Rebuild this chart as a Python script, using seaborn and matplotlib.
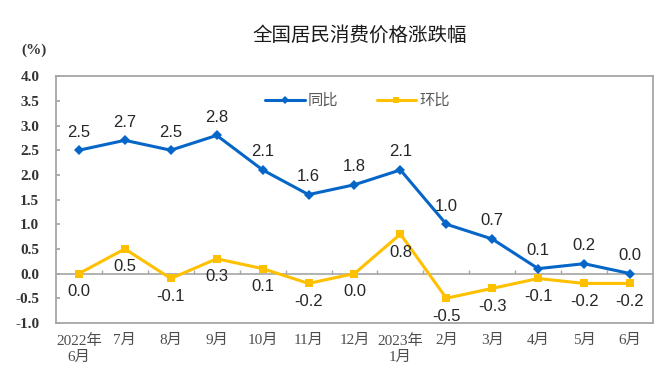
import matplotlib
matplotlib.use('Agg')
import matplotlib.pyplot as plt
import pandas as pd
import seaborn as sns

months = ['2022年\n6月', '7月', '8月', '9月', '10月', '11月', '12月',
          '2023年\n1月', '2月', '3月', '4月', '5月', '6月']
yoy = [2.5, 2.7, 2.5, 2.8, 2.1, 1.6, 1.8, 2.1, 1.0, 0.7, 0.1, 0.2, 0.0]
mom = [0.0, 0.5, -0.1, 0.3, 0.1, -0.2, 0.0, 0.8, -0.5, -0.3, -0.1, -0.2, -0.2]
yticks = [-1.0, -0.5, 0.0, 0.5, 1.0, 1.5, 2.0, 2.5, 3.0, 3.5, 4.0]

sns.set_theme(style='white')
plt.rcParams['font.family'] = ['Liberation Sans', 'Noto Sans CJK SC']

df = pd.DataFrame({
    'pos': list(range(len(months))) * 2,
    'value': yoy + mom,
    'series': ['同比'] * len(months) + ['环比'] * len(months),
})

blue = '#0566C8'
yellow = '#FFC000'
grey = '#A6A6A6'
serif = ['Liberation Serif', 'Noto Sans CJK SC']

fig = plt.figure(figsize=(6.72, 3.79), dpi=100)
ax = fig.add_axes([0.0833, 0.148, 0.8884, 0.651])

sns.lineplot(data=df, x='pos', y='value', hue='series', style='series',
             palette={'同比': blue, '环比': yellow},
             markers={'同比': 'D', '环比': 's'}, dashes=False,
             linewidth=2.2, markersize=5.5, markeredgewidth=0, ax=ax)

# category axis crossing at zero, with small tick marks between months
ax.axhline(0, color=grey, linewidth=1.2, zorder=1)
bounds = [i + 0.5 for i in range(len(months) - 1)]
ax.vlines(bounds, 0, 0.08, color=grey, linewidth=1, zorder=1)

# data labels: yoy above, mom below
for i, v in enumerate(yoy):
    ax.annotate(f'{v:.1f}', (i, v), xytext=(0, 13), textcoords='offset points',
                ha='center', va='center', fontsize=12, color='#262626')
for i, v in enumerate(mom):
    ax.annotate(f'{v:.1f}', (i, v), xytext=(0, -13), textcoords='offset points',
                ha='center', va='center', fontsize=12, color='#262626')

ax.set_xlim(-0.5, len(months) - 0.5)
ax.set_ylim(-1.0, 4.0)
ax.set_yticks(yticks)
ax.set_yticklabels([f'{t:.1f}' for t in yticks], family=serif, fontsize=11,
                   color='#333333', fontweight='bold')
ax.set_xticks(range(len(months)))
ax.set_xticklabels(months, family=serif, fontsize=11, color='#4d4d4d', linespacing=1.3)
ax.tick_params(axis='x', length=0, pad=8)
ax.tick_params(axis='y', direction='in', length=3, color=grey, left=True, pad=12)
ax.set_xlabel('')
ax.set_ylabel('')

for sp in ax.spines.values():
    sp.set_color(grey)
    sp.set_linewidth(1.3)

leg = ax.legend(loc='upper center', bbox_to_anchor=(0.505, 0.985), ncol=2, frameon=False,
                fontsize=11, handlelength=2.6, columnspacing=2.5, handletextpad=0.2,
                markerscale=0.8)
for t in leg.get_texts():
    t.set_color('#595959')

fig.text(360 / 672, 1 - 35 / 379, '全国居民消费价格涨跌幅', ha='center', va='center',
         fontsize=14, family=['Noto Sans CJK SC'], color='#1a1a1a', fontweight='medium')
fig.text(34 / 672, 1 - 50 / 379, '(%)', ha='center', va='center',
         fontsize=11, family=serif, color='#333333', fontweight='bold')

fig.savefig('out.png', dpi=100)
